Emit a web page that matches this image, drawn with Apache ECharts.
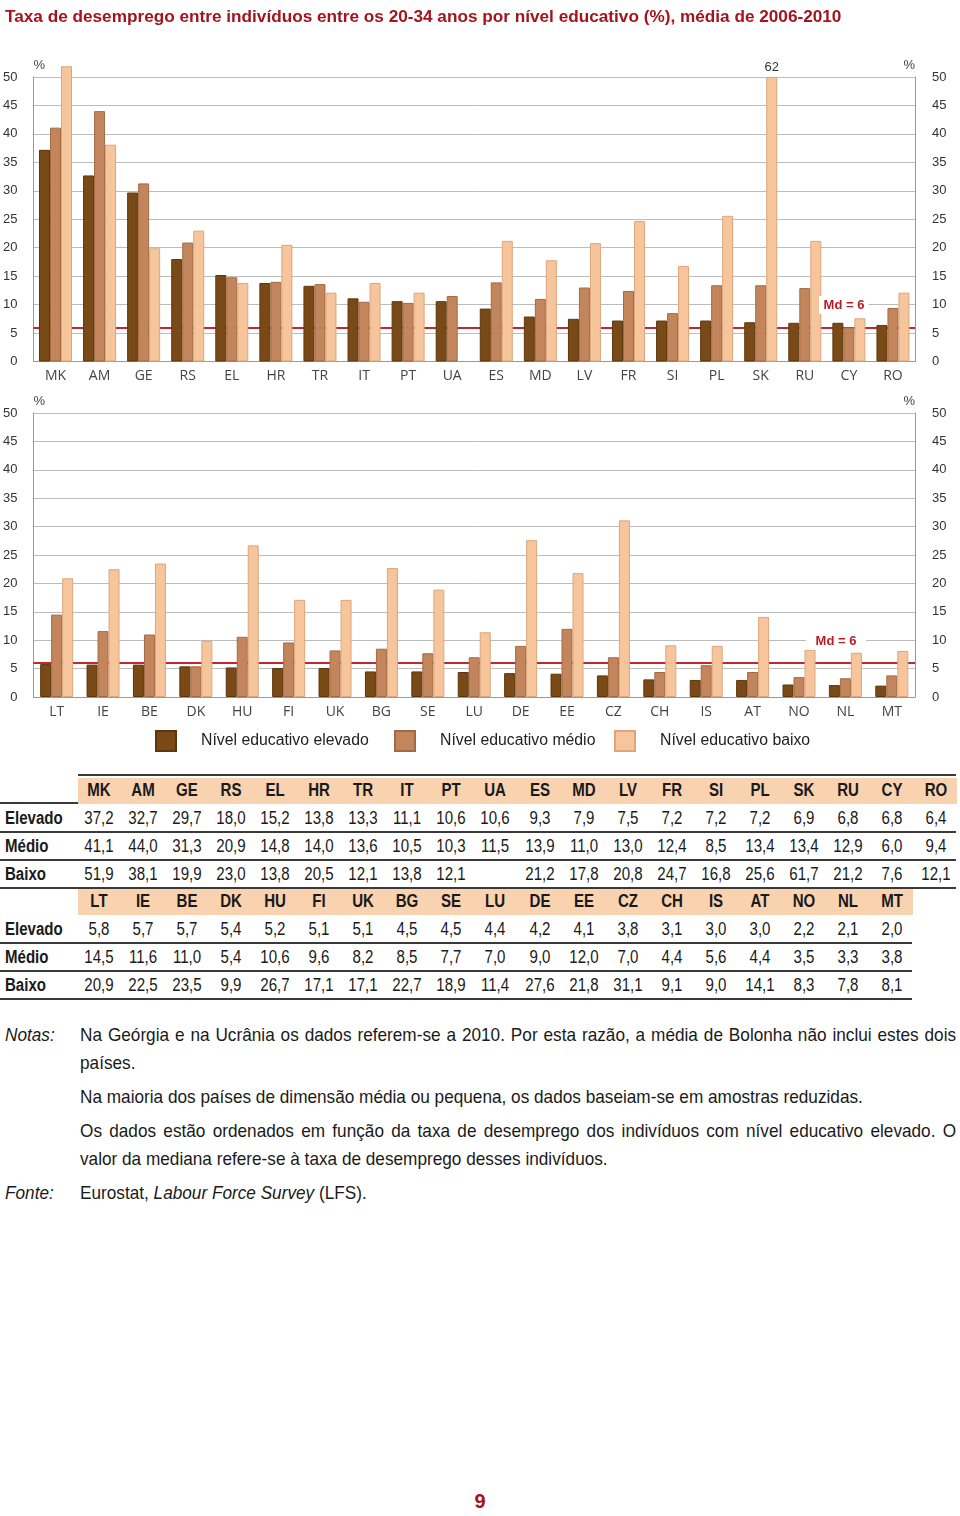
<!DOCTYPE html>
<html><head><meta charset="utf-8">
<script src="https://cdn.jsdelivr.net/npm/echarts@6/dist/echarts.min.js"></script>
<style>
body{margin:0;background:#fff;width:960px;height:1516px;position:relative;overflow:hidden;font-family:'Liberation Sans',Arial,sans-serif;color:#1a1a1a}
#chart{position:absolute;left:0;top:0;width:960px;height:765px}
.c{position:absolute;white-space:nowrap;transform:translate(-50%,-50%) scaleX(0.86);font-size:17.5px;line-height:20px}
.rl{position:absolute;white-space:nowrap;transform:translateY(-50%) scaleX(0.86);transform-origin:0 50%;font-size:17.5px;font-weight:bold;line-height:20px;left:5px}
.hb{position:absolute;background:#f9d2b0}
.ln{position:absolute;height:2px;background:#3a3a3a}
.nt{position:absolute;left:80px;width:937px;font-size:18.4px;line-height:28px;text-align:justify;transform:scaleX(0.935);transform-origin:0 0}
.lb{position:absolute;left:5px;font-size:18.4px;line-height:28px;font-style:italic;transform:scaleX(0.935);transform-origin:0 0}
#page{position:absolute;left:0;width:960px;top:1490px;text-align:center;font-family:'Liberation Sans',Arial,sans-serif;font-weight:bold;font-size:20px;color:#a5121b}
</style></head><body>
<div id="chart"></div>
<div id="tables"></div>
<div class="lb" style="top:1021px">Notas:</div>
<div class="nt" style="top:1021px">Na Geórgia e na Ucrânia os dados referem-se a 2010. Por esta razão, a média de Bolonha não inclui estes dois países.</div>
<div class="nt" style="top:1083px">Na maioria dos países de dimensão média ou pequena, os dados baseiam-se em amostras reduzidas.</div>
<div class="nt" style="top:1117px">Os dados estão ordenados em função da taxa de desemprego dos indivíduos com nível educativo elevado. O valor da mediana refere-se à taxa de desemprego desses indivíduos.</div>
<div class="lb" style="top:1179px">Fonte:</div>
<div class="nt" style="top:1179px">Eurostat, <i>Labour Force Survey</i> (LFS).</div>
<div id="page">9</div>
<script>
// ---------- DATA ----------
const titleText = 'Taxa de desemprego entre indivíduos entre os 20-34 anos por nível educativo (%), média de 2006-2010';
const seriesNames = ['Nível educativo elevado', 'Nível educativo médio', 'Nível educativo baixo'];
const rowLabels = ['Elevado', 'Médio', 'Baixo'];

const cats1 = ['MK','AM','GE','RS','EL','HR','TR','IT','PT','UA','ES','MD','LV','FR','SI','PL','SK','RU','CY','RO'];
const elev1 = [37.2,32.7,29.7,18.0,15.2,13.8,13.3,11.1,10.6,10.6,9.3,7.9,7.5,7.2,7.2,7.2,6.9,6.8,6.8,6.4];
const med1  = [41.1,44.0,31.3,20.9,14.8,14.0,13.6,10.5,10.3,11.5,13.9,11.0,13.0,12.4,8.5,13.4,13.4,12.9,6.0,9.4];
const low1  = [51.9,38.1,19.9,23.0,13.8,20.5,12.1,13.8,12.1,null,21.2,17.8,20.8,24.7,16.8,25.6,61.7,21.2,7.6,12.1];

const cats2 = ['LT','IE','BE','DK','HU','FI','UK','BG','SE','LU','DE','EE','CZ','CH','IS','AT','NO','NL','MT'];
const elev2 = [5.8,5.7,5.7,5.4,5.2,5.1,5.1,4.5,4.5,4.4,4.2,4.1,3.8,3.1,3.0,3.0,2.2,2.1,2.0];
const med2  = [14.5,11.6,11.0,5.4,10.6,9.6,8.2,8.5,7.7,7.0,9.0,12.0,7.0,4.4,5.6,4.4,3.5,3.3,3.8];
const low2  = [20.9,22.5,23.5,9.9,26.7,17.1,17.1,22.7,18.9,11.4,27.6,21.8,31.1,9.1,9.0,14.1,8.3,7.8,8.1];

const median = 6;
const yMin = 0, yMax = 50, yStep = 5;

// ---------- STYLE ----------
const fills   = ['#7a4a16', '#c3865c', '#f6c59c'];
const borders = ['#5c360e', '#a26a44', '#dca67c'];
const SANS = "'Liberation Sans',Arial,sans-serif";

function capData(arr) {
  return arr.map(v => {
    if (v == null) return null;
    if (v > yMax + 5) {
      return { value: yMax, label: { show: true, position: 'top', distance: 3,
        formatter: String(Math.round(v)), color: '#333', fontSize: 13, fontFamily: SANS } };
    }
    return v;
  });
}

const grids = [
  { left: 33, right: 45, top: 77, height: 284.5 },
  { left: 33, right: 45, top: 413, height: 284 }
];
const xAxes = [cats1, cats2].map((c, g) => ({
  gridIndex: g, type: 'category', data: c,
  axisTick: { show: false },
  axisLine: { lineStyle: { color: '#999', width: 1 } },
  axisLabel: { margin: 8, fontSize: 14, color: '#444', fontFamily: "'Open Sans',sans-serif", interval: 0 }
}));
const yAxes = [];
[0, 1].forEach(g => {
  ['left', 'right'].forEach(pos => {
    yAxes.push({
      gridIndex: g, type: 'value', min: yMin, max: yMax, interval: yStep, position: pos,
      axisLine: { show: true, lineStyle: { color: '#999' } },
      axisTick: { show: false },
      axisLabel: { margin: pos === 'left' ? 16 : 17, color: '#333', fontSize: 13, fontFamily: SANS },
      splitLine: { show: pos === 'left', lineStyle: { color: '#bdbdbd' } },
      name: '%', nameLocation: 'end', nameGap: 5,
      nameTextStyle: { align: pos === 'left' ? 'left' : 'right', verticalAlign: 'bottom', color: '#444', fontSize: 13, fontFamily: SANS,
        padding: 0 }
    });
  });
});

const series = [];
[[elev1, med1, low1], [elev2, med2, low2]].forEach((sets, g) => {
  sets.forEach((arr, k) => {
    const s = {
      type: 'bar', name: seriesNames[k], xAxisIndex: g, yAxisIndex: g * 2,
      data: k === 2 ? capData(arr) : arr,
      barWidth: 11, barGap: '0%', clip: false,
      itemStyle: { color: fills[k], borderColor: borders[k], borderWidth: 1 },
      z: 3
    };
    if (k === 0) {
      s.markLine = {
        silent: true, symbol: 'none', z: 1, animation: false,
        lineStyle: { color: '#c1272d', width: 2, type: 'solid' },
        label: { show: false },
        data: [{ yAxis: median }]
      };
    }
    series.push(s);
  });
});

const legendLeft = [155, 394, 614];
const legends = seriesNames.map((n, i) => ({
  data: [n], left: legendLeft[i], top: 730, padding: 0, itemWidth: 20, itemHeight: 20, icon: 'rect',
  selectedMode: false,
  textStyle: { fontSize: 15.8, color: '#222', fontFamily: SANS, padding: [0, 0, 0, 20] }
}));

function mdLabel(x, y, w) {
  return [
    { type: 'rect', z: 50, shape: { x: x - w / 2, y: y - 9, width: w, height: 18 }, style: { fill: '#fff' } },
    { type: 'text', z: 51, x: x, y: y, style: { text: 'Md = ' + median, fill: '#b81d24', font: "bold 13px " + SANS, align: 'center', verticalAlign: 'middle' } }
  ];
}

const option = {
  animation: false,
  backgroundColor: '#fff',
  title: { text: titleText, left: 0, top: 4, textStyle: { fontSize: 17.2, fontWeight: 'bold', color: '#a3141d', fontFamily: SANS } },
  legend: legends,
  grid: grids,
  xAxis: xAxes,
  yAxis: yAxes,
  series: series,
  graphic: [].concat(mdLabel(844, 305, 50), mdLabel(836, 641, 60))
};
const chart = echarts.init(document.getElementById('chart'), null, { renderer: 'canvas' });
chart.setOption(option);

// ---------- TABLES ----------
const T = document.getElementById('tables');
function add(html) { T.insertAdjacentHTML('beforeend', html); }
const colX0 = 99, colDx = 44.05;
function fmt(v) { return v == null ? '' : v.toFixed(1).replace('.', ','); }
function table(cats, rows, yHead, lineRight) {
  const bandRight = colX0 + (cats.length - 1) * colDx + 21;
  add(`<div class="hb" style="left:78px;top:${yHead - 12}px;width:${bandRight - 78}px;height:26px"></div>`);
  cats.forEach((c, i) => add(`<div class="c" style="left:${colX0 + i * colDx}px;top:${yHead}px;font-weight:bold">${c}</div>`));
  rows.forEach((r, j) => {
    const y = yHead + 28 * (j + 1);
    add(`<div class="rl" style="top:${y}px">${rowLabels[j]}</div>`);
    r.forEach((v, i) => add(`<div class="c" style="left:${colX0 + i * colDx}px;top:${y}px">${fmt(v)}</div>`));
    add(`<div class="ln" style="left:0;top:${y + 13}px;width:${lineRight}px"></div>`);
  });
}
add(`<div class="ln" style="left:78px;top:774px;width:878px"></div>`);
add(`<div class="ln" style="left:0;top:802px;width:956px"></div>`);
table(cats1, [elev1, med1, low1], 790, 956);
table(cats2, [elev2, med2, low2], 901, 912);
</script>
</body></html>
